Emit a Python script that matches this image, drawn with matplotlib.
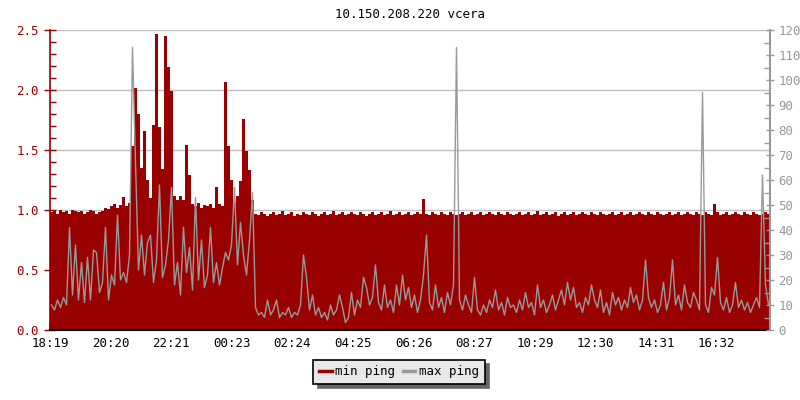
import numpy as np
import matplotlib
matplotlib.use("Agg")
import matplotlib.pyplot as plt
from matplotlib.ticker import MultipleLocator

# one sample every 6 minutes, starting 18:19
sample_minutes = 6
start_label = "18:19"

# min ping (left axis, ms)
min_ping = [
    0.98, 0.99, 0.97, 1.00, 0.98, 0.99, 0.97, 1.00, 0.99, 0.98,
    0.99, 0.97, 0.98, 1.00, 0.99, 0.97, 0.98, 0.99, 1.02, 1.01,
    1.03, 1.05, 1.02, 1.04, 1.11, 1.03, 1.06, 1.53, 2.02, 1.80,
    1.35, 1.66, 1.25, 1.10, 1.71, 2.47, 1.69, 1.34, 2.45, 2.19,
    1.99, 1.12, 1.08, 1.12, 1.08, 1.54, 1.29, 1.05, 1.03, 1.06,
    1.02, 1.04, 1.03, 1.05, 1.02, 1.19, 1.05, 1.03, 2.07, 1.53,
    1.25, 1.06, 1.12, 1.24, 1.76, 1.49, 1.33, 1.08, 0.97, 0.96,
    0.98, 0.97, 0.95, 0.97, 0.98, 0.96, 0.97, 0.99, 0.96, 0.97,
    0.98, 0.95, 0.97, 0.96, 0.98, 0.97, 0.96, 0.98, 0.97, 0.95,
    0.97, 0.98, 0.96, 0.97, 0.99, 0.96, 0.97, 0.98, 0.96, 0.97,
    0.98, 0.97, 0.96, 0.98, 0.97, 0.95, 0.97, 0.98, 0.96, 0.97,
    0.98, 0.96, 0.97, 0.99, 0.96, 0.97, 0.98, 0.96, 0.97, 0.98,
    0.96, 0.97, 0.98, 0.97, 1.09, 0.97, 0.96, 0.98, 0.97, 0.96,
    0.98, 0.97, 0.96, 0.98, 0.97, 0.96, 0.97, 0.98, 0.96, 0.97,
    0.98, 0.96, 0.97, 0.98, 0.96, 0.97, 0.98, 0.97, 0.96, 0.98,
    0.97, 0.96, 0.98, 0.97, 0.96, 0.97, 0.98, 0.96, 0.97, 0.98,
    0.96, 0.97, 0.99, 0.96, 0.97, 0.98, 0.96, 0.97, 0.98, 0.95,
    0.97, 0.98, 0.96, 0.97, 0.98, 0.96, 0.97, 0.98, 0.97, 0.96,
    0.98, 0.97, 0.96, 0.98, 0.97, 0.96, 0.97, 0.98, 0.96, 0.97,
    0.98, 0.96, 0.97, 0.98, 0.96, 0.97, 0.98, 0.97, 0.96, 0.98,
    0.97, 0.96, 0.98, 0.97, 0.96, 0.97, 0.98, 0.96, 0.97, 0.98,
    0.96, 0.97, 0.98, 0.97, 0.96, 0.98, 0.97, 0.96, 0.98, 0.97,
    0.96, 1.05, 0.98, 0.96, 0.97, 0.98, 0.96, 0.97, 0.98, 0.97,
    0.96, 0.98, 0.97, 0.96, 0.98, 0.97, 0.96, 0.97, 0.98, 0.97,
]

# max ping (right axis, ms)
max_ping = [
    10, 8, 12, 9, 13, 10, 41, 14, 34, 12,
    27, 11, 29, 12, 32, 31, 15, 19, 41, 12,
    22, 18, 46, 20, 23, 19, 30, 113, 67, 24,
    38, 22, 35, 38, 19, 28, 58, 21, 26, 36,
    57, 18, 27, 14, 41, 23, 33, 16, 53, 20,
    36, 17, 22, 41, 19, 27, 18, 25, 31, 28,
    34, 57, 26, 43, 30, 22, 36, 55, 9, 6,
    7, 5, 12, 6, 8, 12, 5, 7, 6, 9,
    5, 7, 6, 10, 30, 21, 8, 14, 6, 9,
    5, 7, 4, 10, 6, 8, 14, 9, 3, 5,
    15, 6, 12, 9, 21, 17, 10, 13, 26, 11,
    8, 18, 9, 12, 7, 18, 10, 22, 12, 17,
    9, 14, 7, 12, 22, 38, 11, 8, 18, 9,
    13, 7, 15, 10, 18, 113, 12, 8, 14, 10,
    7, 21, 8, 6, 10, 7, 12, 9, 16, 8,
    11, 6, 13, 9, 10, 7, 12, 8, 15, 9,
    11, 6, 18, 9, 12, 7, 10, 14, 8, 12,
    16, 10, 19, 12, 17, 9, 11, 7, 13, 10,
    18, 12, 9, 16, 7, 11, 6, 15, 10, 13,
    8, 12, 9, 17, 11, 14, 8, 12, 28, 13,
    9, 12, 7, 10, 19, 8, 13, 28, 10, 14,
    8, 18, 11, 9, 15, 12, 8, 95, 10, 7,
    17, 14, 29, 11, 8, 13, 7, 10, 19, 9,
    12, 8, 11, 7, 10, 13, 9, 62, 18, 10,
]

tick_labels = ["18:19", "20:20", "22:21", "00:23", "02:24", "04:25",
               "06:26", "08:27", "10:29", "12:30", "14:31", "16:32"]

assert len(min_ping) == len(max_ping) == 240


def minutes_after_start(label):
    h, m = map(int, label.split(":"))
    h0, m0 = map(int, start_label.split(":"))
    return ((h * 60 + m) - (h0 * 60 + m0)) % 1440


RED = "#990000"
GRAY = "#999999"

plt.rcParams["font.family"] = "DejaVu Sans Mono"

fig = plt.figure(figsize=(8, 4), dpi=100)
ax = fig.add_axes([50 / 800, 70 / 400, 720 / 800, 300 / 400])

x = np.arange(len(min_ping)) * sample_minutes
ax.bar(x, min_ping, width=sample_minutes, align="edge", color=RED,
       linewidth=0, zorder=2)
ax.set_xlim(0, 1440)
ax.set_ylim(0, 2.5)
ax.set_axisbelow(True)
ax.grid(axis="y", color="#c0c0c0", linewidth=1.0)

ax.yaxis.set_minor_locator(MultipleLocator(0.1))
ax.set_yticks(np.arange(0, 2.51, 0.5))
ax.set_yticklabels([f"{v:.1f}" for v in np.arange(0, 2.51, 0.5)])
ax.tick_params(axis="y", which="major", colors=RED, direction="inout",
               length=8, width=1, labelsize=9, pad=4)
ax.tick_params(axis="y", which="minor", colors=RED, direction="in",
               length=4, width=1)

ax.set_xticks([minutes_after_start(t) for t in tick_labels])
ax.set_xticklabels(tick_labels)
ax.tick_params(axis="x", direction="in", length=5, width=1.2,
               labelsize=9, pad=5, colors="black")

ax.spines["left"].set_color(RED)
ax.spines["left"].set_linewidth(1.2)
ax.spines["bottom"].set_color("black")
ax.spines["bottom"].set_linewidth(1.5)
ax.spines["top"].set_visible(False)
ax.spines["right"].set_visible(False)

ax2 = ax.twinx()
ax2.plot(x + sample_minutes / 2, max_ping, color=GRAY, linewidth=1.0)
ax2.set_ylim(0, 120)
ax2.yaxis.set_major_locator(MultipleLocator(10))
ax2.yaxis.set_minor_locator(MultipleLocator(5))
ax2.tick_params(axis="y", which="major", colors=GRAY, direction="inout",
                length=6, width=1, labelsize=9, pad=3)
ax2.tick_params(axis="y", which="minor", colors=GRAY, direction="in",
                length=4, width=1)
ax2.spines["right"].set_color(GRAY)
ax2.spines["right"].set_linewidth(1.5)
for s in ("left", "top", "bottom"):
    ax2.spines[s].set_visible(False)

fig.text(410 / 800, 1 - 14 / 400, "10.150.208.220 vcera", ha="center",
         va="center", fontsize=9, color="black")

h1 = plt.Line2D([], [], color=RED, linewidth=2.5)
h2 = plt.Line2D([], [], color=GRAY, linewidth=2.5)
leg = fig.legend([h1, h2], ["min ping", "max ping"], ncol=2,
                 loc="center", bbox_to_anchor=(399 / 800, 1 - 372 / 400),
                 fontsize=9, frameon=True, fancybox=False,
                 facecolor="#e8e8e8", edgecolor="black", framealpha=1,
                 handlelength=1.0, handletextpad=0.3, columnspacing=0.6,
                 borderpad=0.45, borderaxespad=0,
                 shadow={"color": "#666666", "alpha": 1, "ox": 3, "oy": -3})
leg.get_frame().set_linewidth(1.2)

fig.savefig("out.png", dpi=100)
